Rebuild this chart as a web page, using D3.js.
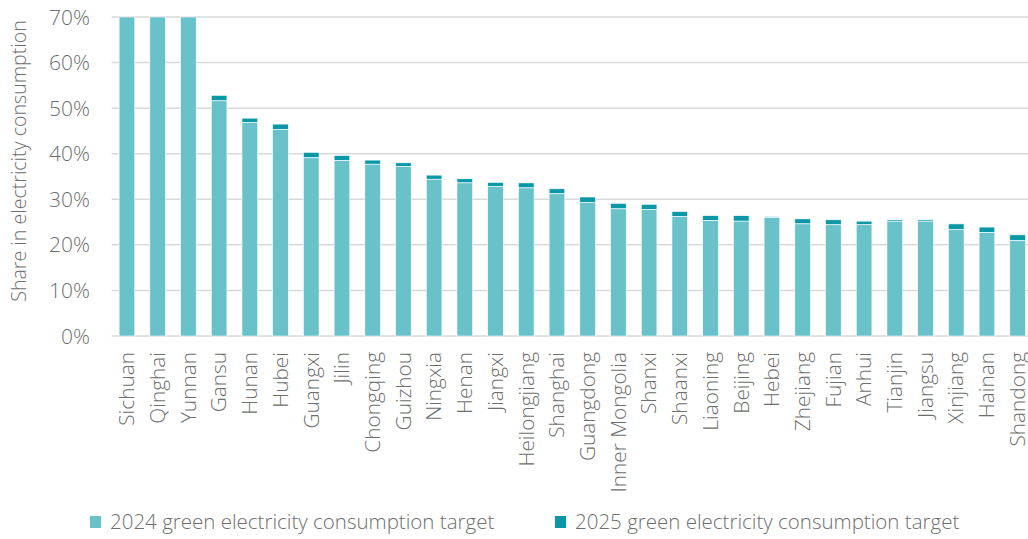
<!DOCTYPE html>
<html>
<head>
<meta charset="utf-8">
<script src="https://cdn.jsdelivr.net/npm/d3@7"></script>
<style>
  body { margin: 0; background: #fff; }
  text { font-family: "Open Sans", "Noto Sans", sans-serif; font-weight: 300; }
</style>
</head>
<body>
<div id="chart"></div>
<script>
// provinces, left to right
const provinces = ["Sichuan", "Qinghai", "Yunnan", "Gansu", "Hunan", "Hubei", "Guangxi", "Jilin",
  "Chongqing", "Guizhou", "Ningxia", "Henan", "Jiangxi", "Heilongjiang", "Shanghai", "Guangdong",
  "Inner Mongolia", "Shanxi", "Shaanxi", "Liaoning", "Beijing", "Hebei", "Zhejiang", "Fujian",
  "Anhui", "Tianjin", "Jiangsu", "Xinjiang", "Hainan", "Shandong"];

// 2024 target (share, %)
const target2024 = [70, 70, 70, 51.6, 46.8, 45.3, 39.1, 38.5, 37.7, 37.2, 34.4, 33.6, 32.8, 32.5,
  31.2, 29.3, 27.9, 27.7, 26.2, 25.3, 25.2, 26.0, 24.6, 24.4, 24.4, 25.2, 25.2, 23.4, 22.7, 20.9];

// 2025 target (share, %)
const target2025 = [70, 70, 70, 52.8, 47.8, 46.5, 40.3, 39.6, 38.6, 38.0, 35.3, 34.5, 33.7, 33.6,
  32.3, 30.5, 29.1, 28.9, 27.3, 26.4, 26.4, 26.2, 25.7, 25.5, 25.2, 25.5, 25.5, 24.6, 23.9, 22.2];

const yTicks = [0, 10, 20, 30, 40, 50, 60, 70];
const seriesNames = ["2024 green electricity consumption target", "2025 green electricity consumption target"];
const colors = ["#69c1ca", "#0b98a6"];

const W = 1028, H = 539;
const plotL = 111.6, plotR = 1033, plotT = 17, plotB = 336;

const svg = d3.select("#chart").append("svg")
  .attr("width", W).attr("height", H);

const x = d3.scaleBand().domain(provinces).range([plotL, plotR])
  .paddingInner(0.49).paddingOuter(0.245);
const y = d3.scaleLinear().domain([0, 70]).range([plotB, plotT]);

// gridlines
svg.append("g").selectAll("line").data(yTicks).join("line")
  .attr("x1", plotL).attr("x2", plotR)
  .attr("y1", d => y(d)).attr("y2", d => y(d))
  .attr("stroke", "#d9d9d9").attr("stroke-width", 1.5);

// y tick labels
svg.append("g").selectAll("text").data(yTicks).join("text")
  .attr("x", 90).attr("y", d => y(d)).attr("dy", "0.36em")
  .attr("text-anchor", "end")
  .attr("font-size", 21).attr("fill", "#6e6e6e")
  .text(d => d + "%");

// y title
svg.append("text")
  .attr("transform", "translate(26,161) rotate(-90)")
  .attr("text-anchor", "middle")
  .attr("font-size", 19.6).attr("fill", "#6e6e6e")
  .text("Share in electricity consumption");

const rows = provinces.map((p, i) => ({ p, a: target2024[i], b: target2025[i] }));

const g = svg.append("g");
// 2025 increment on top
g.selectAll("rect.b").data(rows).join("rect").attr("class", "b")
  .attr("x", d => x(d.p)).attr("width", x.bandwidth())
  .attr("y", d => y(d.b)).attr("height", d => y(d.a) - y(d.b))
  .attr("fill", colors[1]).attr("stroke", "#fff").attr("stroke-width", 0.6);
// 2024 base
g.selectAll("rect.a").data(rows).join("rect").attr("class", "a")
  .attr("x", d => x(d.p)).attr("width", x.bandwidth())
  .attr("y", d => y(d.a)).attr("height", d => plotB - y(d.a))
  .attr("fill", colors[0]).attr("stroke", "#fff").attr("stroke-width", 0.6);

// x labels
svg.append("g").selectAll("text").data(provinces).join("text")
  .attr("transform", d => "translate(" + (x(d) + x.bandwidth() / 2) + ",352) rotate(-90)")
  .attr("dy", "0.35em")
  .attr("text-anchor", "end")
  .attr("font-size", 20.8).attr("fill", "#6e6e6e")
  .text(d => d);

// legend
const legendX = [90, 555];
const lg = svg.append("g").selectAll("g").data(seriesNames).join("g")
  .attr("transform", (d, i) => "translate(" + legendX[i] + ",516)");
lg.append("rect").attr("width", 11).attr("height", 12).attr("fill", (d, i) => colors[i]);
lg.append("text").attr("x", 20).attr("y", 6).attr("dy", "0.36em")
  .attr("font-size", 20.5).attr("fill", "#6e6e6e")
  .text(d => d);
</script>
</body>
</html>
